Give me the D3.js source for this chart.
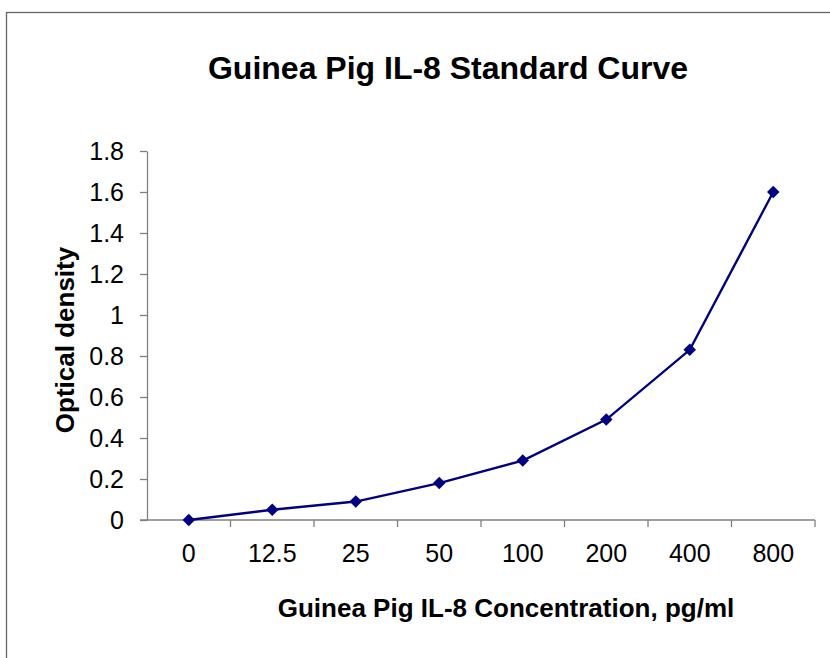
<!DOCTYPE html>
<html>
<head>
<meta charset="utf-8">
<script src="https://cdn.jsdelivr.net/npm/d3@7"></script>
<style>
  body { margin: 0; background: #fff; }
  svg text { font-family: "Liberation Sans", Arial, sans-serif; fill: #000; }
</style>
</head>
<body>
<svg id="chart" width="830" height="658"></svg>
<script>
// Data
var concentrations = ['0', '12.5', '25', '50', '100', '200', '400', '800'];
var densities = [0, 0.05, 0.09, 0.18, 0.29, 0.49, 0.83, 1.60];
var yTicks = [0, 0.2, 0.4, 0.6, 0.8, 1, 1.2, 1.4, 1.6, 1.8];

var svg = d3.select('#chart');

// Outer chart border (runs past the right and bottom edge)
svg.append('rect')
  .attr('x', 6.5).attr('y', 12.5)
  .attr('width', 840).attr('height', 660)
  .attr('fill', 'none')
  .attr('stroke', '#666')
  .attr('stroke-width', 1.3);

// Scales
var xScale = d3.scaleBand().domain(concentrations).range([147, 815]);
var yScale = d3.scaleLinear().domain([0, 1.8]).range([520, 151]);

// Title
svg.append('text')
  .attr('x', 448).attr('y', 79)
  .attr('text-anchor', 'middle')
  .style('font-size', '32px').style('font-weight', 'bold')
  .text('Guinea Pig IL-8 Standard Curve');

// Y axis
var yAxis = d3.axisLeft(yScale)
  .tickValues(yTicks)
  .tickFormat(function(d) { return d3.format('~g')(d); })
  .tickSize(7).tickSizeOuter(0).tickPadding(16);

var gy = svg.append('g')
  .attr('class', 'y axis')
  .attr('transform', 'translate(147,0)')
  .call(yAxis);
gy.select('.domain').attr('stroke', '#808080').attr('stroke-width', 1.3);
gy.selectAll('.tick line').attr('stroke', '#808080').attr('stroke-width', 1.3);
gy.selectAll('.tick text').style('font-size', '25px')
  .style('font-family', '"Liberation Sans", Arial, sans-serif').attr('fill', '#000');

// X axis: ticks between categories
var gx = svg.append('g')
  .attr('class', 'x axis')
  .attr('transform', 'translate(0,520)');

gx.append('line')
  .attr('x1', 140).attr('x2', 815)
  .attr('stroke', '#808080').attr('stroke-width', 1.3);

var bounds = concentrations.map(function(c) { return xScale(c); }).concat([xScale.range()[1]]);
gx.selectAll('.xtick')
  .data(bounds.slice(1))
  .enter().append('line')
  .attr('class', 'xtick')
  .attr('x1', function(d) { return d; }).attr('x2', function(d) { return d; })
  .attr('y1', 0).attr('y2', 7)
  .attr('stroke', '#808080').attr('stroke-width', 1.3);

gx.selectAll('.xlabel')
  .data(concentrations)
  .enter().append('text')
  .attr('class', 'xlabel')
  .attr('x', function(d) { return xScale(d) + xScale.bandwidth() / 2; })
  .attr('y', 42)
  .attr('text-anchor', 'middle')
  .style('font-size', '25px')
  .text(function(d) { return d; });

// Axis titles
svg.append('text')
  .attr('x', 506).attr('y', 617)
  .attr('text-anchor', 'middle')
  .style('font-size', '26px').style('font-weight', 'bold')
  .text('Guinea Pig IL-8 Concentration, pg/ml');

svg.append('text')
  .attr('transform', 'translate(74,340)rotate(-90)')
  .attr('text-anchor', 'middle')
  .style('font-size', '26px').style('font-weight', 'bold')
  .text('Optical density');

// Line
var points = concentrations.map(function(c, i) { return { conc: c, od: densities[i] }; });

var line = d3.line()
  .x(function(d) { return xScale(d.conc) + xScale.bandwidth() / 2; })
  .y(function(d) { return yScale(d.od); });

svg.append('path')
  .datum(points)
  .attr('d', line)
  .attr('fill', 'none')
  .attr('stroke', '#000080')
  .attr('stroke-width', 2.4);

// Diamond markers
svg.selectAll('.marker')
  .data(points)
  .enter().append('path')
  .attr('class', 'marker')
  .attr('d', d3.symbol().type(d3.symbolDiamond2).size(100))
  .attr('transform', function(d) {
    return 'translate(' + (xScale(d.conc) + xScale.bandwidth() / 2) + ',' + yScale(d.od) + ')';
  })
  .attr('fill', '#000080');
</script>
</body>
</html>
